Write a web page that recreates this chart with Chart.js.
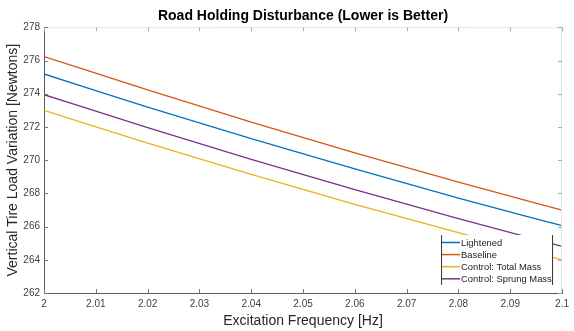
<!DOCTYPE html>
<html>
<head>
<meta charset="utf-8">
<script src="https://cdn.jsdelivr.net/npm/chart.js@4.4.0/dist/chart.umd.min.js"></script>
<style>
  html, body { margin: 0; padding: 0; background: #fff; }
  #wrap { width: 574px; height: 331px; }
</style>
</head>
<body>
<div id="wrap"><canvas id="roadHoldingChart" width="574" height="331"></canvas></div>
<script>
// excitation frequency [Hz]
const freq = [2.0, 2.02, 2.04, 2.06, 2.08, 2.1];

// vertical tire load variation [N]
const lightened = [275.19, 273.2, 271.3, 269.47, 267.72, 266.05];
const baseline = [276.24, 274.23, 272.29, 270.44, 268.67, 266.99];
const totalMass = [273.0, 271.03, 269.14, 267.34, 265.63, 264.0];
const sprungMass = [273.94, 271.96, 270.05, 268.23, 266.48, 264.81];

const seriesNames = ["Lightened", "Baseline", "Control: Total Mass", "Control: Sprung Mass"];
const xTicks = [2.0, 2.01, 2.02, 2.03, 2.04, 2.05, 2.06, 2.07, 2.08, 2.09, 2.1];
const yTicks = [262, 264, 266, 268, 270, 272, 274, 276, 278];

const fontFamily = "'Liberation Sans', Arial, Helvetica, sans-serif";
const colors = ["#0072BD", "#D95319", "#EDB120", "#7E2F8E"];

const toPoints = (arr) => freq.map((f, i) => ({ x: f, y: arr[i] }));

// MATLAB style inward ticks + light top/right frame
const frameTicks = {
  id: "frameTicks",
  afterDatasetsDraw(c) {
    const { ctx, chartArea: a, scales: { x, y } } = c;
    const len = 4;
    ctx.save();
    ctx.lineWidth = 1;

    ctx.strokeStyle = "#e4e4e4";
    ctx.beginPath();
    ctx.moveTo(a.left, a.top + 0.5);
    ctx.lineTo(a.right, a.top + 0.5);
    ctx.moveTo(a.right - 0.5, a.top);
    ctx.lineTo(a.right - 0.5, a.bottom);
    ctx.stroke();

    ctx.strokeStyle = "#777";
    ctx.beginPath();
    xTicks.forEach((v) => {
      const px = Math.round(x.getPixelForValue(v)) + 0.5;
      ctx.moveTo(px, a.bottom);
      ctx.lineTo(px, a.bottom - len);
    });
    yTicks.forEach((v) => {
      const py = Math.round(y.getPixelForValue(v)) + 0.5;
      ctx.moveTo(a.left, py);
      ctx.lineTo(a.left + len, py);
    });
    ctx.stroke();

    ctx.strokeStyle = "#aaa";
    ctx.beginPath();
    xTicks.forEach((v) => {
      const px = Math.round(x.getPixelForValue(v)) + 0.5;
      ctx.moveTo(px, a.top);
      ctx.lineTo(px, a.top + len);
    });
    yTicks.forEach((v) => {
      const py = Math.round(y.getPixelForValue(v)) + 0.5;
      ctx.moveTo(a.right, py);
      ctx.lineTo(a.right - len, py);
    });
    ctx.stroke();
    ctx.restore();
  },
};

// legend box in the lower right corner, covers the lines like MATLAB
const boxLegend = {
  id: "boxLegend",
  afterDatasetsDraw(c) {
    const { ctx, chartArea: a } = c;
    const right = a.right - 9,
      left = right - 112,
      bottom = a.bottom - 8,
      top = bottom - 50;

    ctx.save();
    ctx.fillStyle = "#fff";
    ctx.fillRect(left, top, right - left, bottom - top);

    ctx.strokeStyle = "#333";
    ctx.lineWidth = 1;
    ctx.beginPath();
    ctx.moveTo(left + 0.5, top);
    ctx.lineTo(left + 0.5, bottom);
    ctx.moveTo(right - 0.5, top);
    ctx.lineTo(right - 0.5, bottom);
    ctx.stroke();

    ctx.font = `9.4px ${fontFamily}`;
    ctx.textBaseline = "middle";
    ctx.textAlign = "left";
    c.data.datasets.forEach((ds, i) => {
      const yy = top + 7.5 + i * 12.1;
      ctx.strokeStyle = ds.borderColor;
      ctx.lineWidth = 1.5;
      ctx.beginPath();
      ctx.moveTo(left + 1, yy);
      ctx.lineTo(left + 19, yy);
      ctx.stroke();
      ctx.fillStyle = "#222";
      ctx.fillText(ds.label, left + 20, yy + 0.5);
    });
    ctx.restore();
  },
};

const ctx = document.getElementById("roadHoldingChart");

new Chart(ctx, {
  type: "line",
  data: {
    datasets: [lightened, baseline, totalMass, sprungMass].map((arr, i) => ({
      label: seriesNames[i],
      data: toPoints(arr),
      borderColor: colors[i],
      backgroundColor: colors[i],
      borderWidth: 1.3,
      pointRadius: 0,
      cubicInterpolationMode: "monotone",
      fill: false,
    })),
  },
  options: {
    responsive: false,
    animation: false,
    layout: {
      padding: { top: 0, bottom: 0, left: 0, right: 9.5 },
    },
    scales: {
      x: {
        type: "linear",
        min: 2,
        max: 2.1,
        afterBuildTicks: (scale) => {
          scale.ticks = xTicks.map((v) => ({ value: v }));
        },
        afterFit: (scale) => {
          scale.height = 38;
        },
        border: { display: true, color: "#5a5a5a", width: 1 },
        grid: { display: false, drawTicks: false },
        ticks: {
          autoSkip: false,
          maxRotation: 0,
          padding: 5,
          color: "#404040",
          font: { family: fontFamily, size: 10 },
          callback: (v) => String(Number(v.toFixed(2))),
        },
        title: {
          display: true,
          text: "Excitation Frequency [Hz]",
          color: "#262626",
          font: { family: fontFamily, size: 14 },
          padding: { top: 0, bottom: 1 },
        },
      },
      y: {
        min: 262,
        max: 278,
        afterBuildTicks: (scale) => {
          scale.ticks = yTicks.map((v) => ({ value: v }));
        },
        afterFit: (scale) => {
          scale.width = 44;
        },
        border: { display: true, color: "#5a5a5a", width: 1 },
        grid: { display: false, drawTicks: false },
        ticks: {
          padding: 4,
          color: "#404040",
          font: { family: fontFamily, size: 10 },
        },
        title: {
          display: true,
          text: "Vertical Tire Load Variation [Newtons]",
          color: "#262626",
          font: { family: fontFamily, size: 14 },
          padding: { top: 5, bottom: 0 },
        },
      },
    },
    plugins: {
      legend: { display: false },
      tooltip: { enabled: false },
      title: {
        display: true,
        text: "Road Holding Disturbance (Lower is Better)",
        fullSize: false,
        color: "#000",
        font: { family: fontFamily, size: 14, weight: "bold" },
        padding: { top: 7.6, bottom: 2.9 },
      },
    },
  },
  plugins: [frameTicks, boxLegend],
});
</script>
</body>
</html>
